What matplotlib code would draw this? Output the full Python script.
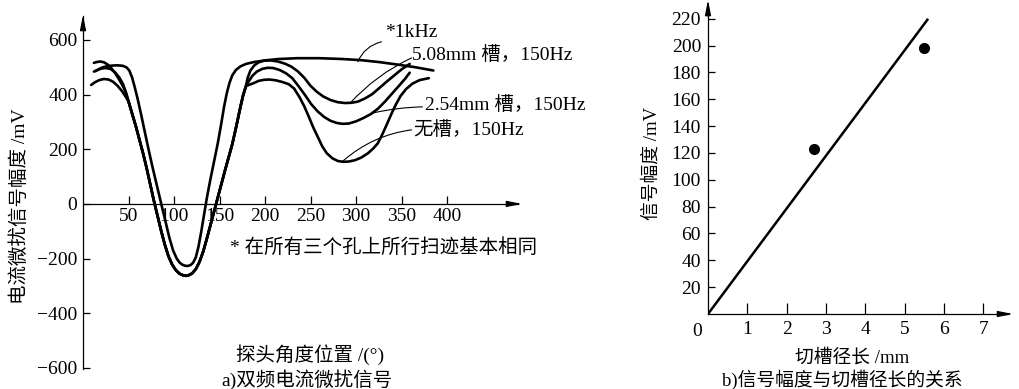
import matplotlib
matplotlib.use("Agg")
import matplotlib.pyplot as plt

SERIF = ["Liberation Serif", "Noto Sans CJK SC"]
plt.rcParams["font.family"] = SERIF
plt.rcParams["axes.unicode_minus"] = True

# ---------------- data: panel a (angle in degrees, amplitude in mV) ----------------
x_1khz = [14, 18, 22, 27, 32, 38, 44, 48, 51, 54, 57, 60, 64, 68, 72, 76, 81, 86, 90, 95, 99,
          103, 106, 109, 112, 115, 118, 121, 124, 127, 130, 133, 136, 140, 144, 148, 152, 155,
          158, 161, 164, 168, 173, 179, 188, 200, 215, 235, 260, 285, 305, 325, 345, 365, 385]
y_1khz = [486, 494, 500, 504, 506, 507, 505, 499, 487, 462, 425, 385, 325, 262, 200, 140, 70,
          0, -55, -125, -170, -200, -214, -222, -226, -227, -224, -215, -195, -155, -100, -40,
          20, 90, 155, 220, 295, 355, 405, 443, 470, 490, 503, 512, 519, 525, 530, 533, 533,
          530, 526, 519, 510, 500, 488]

# common V part shared by the three 150 Hz traces
x_common = [50, 54, 58, 62, 66, 70, 74, 78, 82, 86, 90, 94, 98, 102, 106, 110, 113, 116, 120,
            124, 128, 132, 136, 140, 144, 148, 152, 156, 160, 164, 167, 170, 173, 176, 179]
y_common = [375, 330, 285, 235, 185, 130, 70, 10, -45, -100, -150, -192, -222, -242, -255,
            -261, -263, -261, -254, -238, -212, -175, -128, -78, -28, 22, 72, 122, 170, 218,
            262, 308, 355, 398, 430]

x_508_left = [12, 15, 19, 23, 27, 31, 35, 39, 43, 47]
y_508_left = [516, 519, 521, 518, 510, 497, 480, 459, 436, 410]
x_508_right = [181, 184, 188, 193, 199, 206, 214, 222, 229, 236, 243, 250, 257, 264, 272, 280,
               288, 295, 302, 310, 318, 326, 334, 342, 350, 359]
y_508_right = [462, 488, 506, 518, 524, 525, 521, 513, 502, 485, 462, 432, 410, 393, 380, 372,
               369, 370, 374, 386, 402, 425, 448, 470, 492, 512]

x_254_left = [12, 16, 20, 25, 30, 35, 40, 44, 47]
y_254_left = [484, 490, 495, 497, 494, 482, 462, 438, 408]
x_254_right = [182, 186, 191, 197, 203, 209, 216, 223, 230, 237, 244, 251, 258, 265, 272, 279,
               285, 292, 300, 308, 316, 324, 332, 340, 348, 354, 359]
y_254_right = [448, 468, 484, 494, 498, 497, 490, 478, 460, 430, 398, 364, 338, 318, 304, 296,
               293, 294, 302, 314, 328, 348, 375, 405, 435, 458, 480]

x_none_left = [9, 13, 18, 23, 28, 33, 38, 43, 47]
y_none_left = [435, 445, 453, 457, 455, 447, 432, 412, 392]
x_none_right = [182, 187, 193, 199, 205, 212, 219, 226, 232, 238, 243, 248, 253, 258, 263, 268,
                274, 280, 286, 292, 299, 306, 313, 319, 324, 329, 334, 339, 344, 349, 355, 362,
                370, 380]
y_none_right = [435, 441, 450, 454, 455, 452, 446, 438, 422, 390, 358, 320, 280, 245, 210, 185,
                167, 157, 154, 155, 160, 170, 185, 203, 222, 255, 292, 330, 365, 395, 420, 440,
                453, 460]

xticks_a = [50, 100, 150, 200, 250, 300, 350, 400]
yticks_a = [-600, -400, -200, 0, 200, 400, 600]
yticklabels_a = ["\u2212600", "\u2212400", "\u2212200", "0", "200", "400", "600"]

# ---------------- data: panel b ----------------
slot_mm = [2.7, 5.5]
signal_mv = [123, 198]
fit_x = [0, 5.6]
fit_y = [0, 220]
xticks_b = [1, 2, 3, 4, 5, 6, 7]
yticks_b = [20, 40, 60, 80, 100, 120, 140, 160, 180, 200, 220]

W, H = 1019, 389
fig = plt.figure(figsize=(W / 100, H / 100), dpi=100)


def fxy(px, py):
    return px / W, 1 - py / H


FS = 14

# ---------------- panel a ----------------
axL = fig.add_axes([83 / W, 1 - 370.7 / H, 439 / W, 355.7 / H])
axL.set_xlim(0, 482.4)
axL.set_ylim(-610, 691)
axL.patch.set_alpha(0)
kw = dict(color="k", lw=1.9, solid_capstyle="round", solid_joinstyle="round")
axL.plot(x_1khz, y_1khz, **kw)
axL.plot(x_508_left + x_common + x_508_right, y_508_left + y_common + y_508_right, **kw)
axL.plot(x_254_left + x_common + x_254_right, y_254_left + y_common + y_254_right, **kw)
axL.plot(x_none_left + x_common + x_none_right, y_none_left + y_common + y_none_right, **kw)

for s in ["top", "right"]:
    axL.spines[s].set_visible(False)
axL.spines["bottom"].set_position(("data", 0))
axL.spines["bottom"].set_bounds(0, 478)
axL.spines["left"].set_bounds(-605, 686)
for s in ["bottom", "left"]:
    axL.spines[s].set_linewidth(0.9)
axL.tick_params(axis="x", direction="in", length=6, width=0.9, pad=3, labelsize=FS)
axL.tick_params(axis="y", direction="in", length=5, width=0.9, pad=4, labelsize=FS)
axL.set_xticks(xticks_a)
axL.set_xticklabels([str(v) for v in xticks_a])
axL.set_yticks(yticks_a)
axL.set_yticklabels(yticklabels_a)
arrow = dict(arrowstyle="-|>,head_length=0.9,head_width=0.18", color="k", lw=0.9,
             shrinkA=0, shrinkB=0)
axL.annotate("", xy=(482.4, 0), xytext=(470, 0), arrowprops=arrow, annotation_clip=False)
axL.annotate("", xy=(0, 691), xytext=(0, 660), arrowprops=arrow, annotation_clip=False)

lead = dict(arrowstyle="-", color="k", lw=0.8, shrinkA=0, shrinkB=0)
axL.annotate("", xy=(302, 520), xytext=(328, 593),
             arrowprops=dict(lead, connectionstyle="arc3,rad=0.25"), annotation_clip=False)
axL.text(332, 626, "*1kHz", fontsize=FS, va="center", ha="left")
axL.annotate("", xy=(293, 367), xytext=(361, 534),
             arrowprops=dict(lead, connectionstyle="arc3,rad=0.1"), annotation_clip=False)
axL.text(361.5, 545, "5.08mm 槽，150Hz", fontsize=FS, va="center", ha="left")
axL.annotate("", xy=(319, 333), xytext=(373, 355),
             arrowprops=dict(lead, connectionstyle="arc3,rad=0.05"), annotation_clip=False)
axL.text(375.8, 362, "2.54mm 槽，150Hz", fontsize=FS, va="center", ha="left")
axL.annotate("", xy=(286, 158), xytext=(361, 271),
             arrowprops=dict(lead, connectionstyle="arc3,rad=0.15"), annotation_clip=False)
axL.text(362.6, 271, "无槽，150Hz", fontsize=FS, va="center", ha="left")
axL.text(161.5, -161, "* 在所有三个孔上所行扫迹基本相同", fontsize=14,
         va="center", ha="left")

fig.text(*fxy(20, 206), "电流微扰信号幅度 /mV", fontsize=FS, rotation=90,
         ha="center", va="center")
fig.text(*fxy(310, 355), "探头角度位置 /(°)", fontsize=FS, ha="center", va="center")
fig.text(*fxy(307, 380), "a)双频电流微扰信号", fontsize=FS, ha="center", va="center")

# ---------------- panel b ----------------
axR = fig.add_axes([708 / W, 1 - 314 / H, 305 / W, 314 / H])
axR.set_xlim(0, 7.76)
axR.set_ylim(0, 234)
axR.patch.set_alpha(0)
axR.plot(fit_x, fit_y, color="k", lw=1.8, solid_capstyle="butt")
axR.plot(slot_mm, signal_mv, "o", color="k", ms=7)
for s in ["top", "right"]:
    axR.spines[s].set_visible(False)
axR.spines["bottom"].set_bounds(0, 7.6)
axR.spines["left"].set_bounds(0, 228)
for s in ["bottom", "left"]:
    axR.spines[s].set_linewidth(0.9)
axR.tick_params(axis="x", direction="in", length=8, width=0.9, pad=5, labelsize=FS)
axR.tick_params(axis="y", direction="in", length=5, width=0.9, pad=5, labelsize=FS)
axR.set_xticks(xticks_b)
axR.set_xticklabels([str(v) for v in xticks_b])
axR.set_yticks(yticks_b)
axR.set_yticklabels([str(v) for v in yticks_b])
axR.annotate("", xy=(7.76, 0), xytext=(7.4, 0), arrowprops=arrow, annotation_clip=False)
axR.annotate("", xy=(0, 234), xytext=(0, 222), arrowprops=arrow, annotation_clip=False)
fig.text(*fxy(697, 331), "0", fontsize=FS, ha="center", va="center")

fig.text(*fxy(652, 163), "信号幅度 /mV", fontsize=13.5, rotation=90,
         ha="center", va="center")
fig.text(*fxy(852, 358), "切槽径长 /mm", fontsize=13.5, ha="center", va="center")
fig.text(*fxy(842, 380), "b)信号幅度与切槽径长的关系", fontsize=13.5,
         ha="center", va="center")

fig.savefig("out.png", dpi=100)
